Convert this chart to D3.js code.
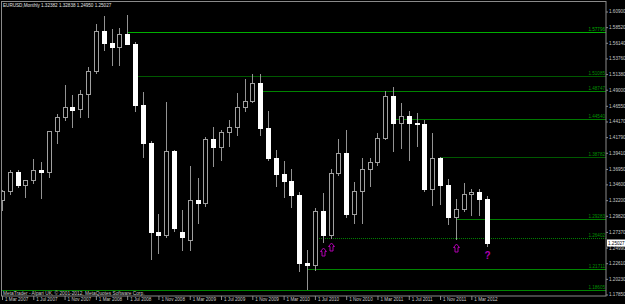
<!DOCTYPE html>
<html>
<head>
<meta charset="utf-8">
<script src="https://cdn.jsdelivr.net/npm/d3@7"></script>
<style>
body { margin: 0; background: #000; }
svg { display: block; }
text { font-family: "Liberation Sans", Arial, sans-serif; }
</style>
</head>
<body>
<div id="chart"></div>
<script>
// EURUSD monthly bars, Mar 2007 .. May 2012
var title = "EURUSD,Monthly  1.32382 1.32838 1.24950 1.25027";
var copyright = "MetaTrader - Alpari UK, \u00a9 2001-2012, MetaQuotes Software Corp.";
var months = d3.timeMonth.range(new Date(2007, 2, 1), new Date(2012, 5, 1));

var opens = [1.3225,1.3354,1.3652,1.3447,1.3527,1.3686,1.3644,1.4270,1.4482,1.4633,
    1.4610,1.4837,1.5185,1.5788,1.5618,1.5549,1.5755,1.5600,1.4672,1.4097,
    1.2729,1.2694,1.3970,1.2740,1.2610,1.3230,1.3170,1.4151,1.4032,1.4255,
    1.4334,1.4636,1.4724,1.5006,1.4320,1.3865,1.3625,1.3509,1.3293,1.2268,
    1.2235,1.3048,1.2686,1.3630,1.3938,1.3004,1.3367,1.3690,1.3800,1.4165,
    1.4809,1.4393,1.4502,1.4390,1.4378,1.3391,1.3865,1.3447,1.2961,1.3079,
    1.3320,1.3343,1.3238];
var highs = [1.3374,1.3682,1.3681,1.3534,1.3852,1.3802,1.4279,1.4528,1.4967,1.4827,
    1.4902,1.5240,1.5905,1.6019,1.5818,1.5840,1.6038,1.5625,1.4867,1.4113,
    1.3017,1.4719,1.3980,1.3077,1.3738,1.3560,1.4175,1.4337,1.4288,1.4446,
    1.4843,1.5063,1.5145,1.5135,1.4580,1.3985,1.3815,1.3692,1.3348,1.2456,
    1.3104,1.3334,1.3688,1.4156,1.4282,1.3500,1.3861,1.3863,1.4249,1.4882,
    1.4940,1.4700,1.4578,1.4548,1.4443,1.4247,1.3873,1.3549,1.3234,1.3486,
    1.3386,1.3383,1.3284];
var lows = [1.3077,1.3311,1.3415,1.3267,1.3483,1.3259,1.3567,1.4088,1.4445,1.4336,
    1.4482,1.4490,1.5157,1.5508,1.5283,1.5283,1.5590,1.4580,1.3882,1.2329,
    1.2423,1.2659,1.2745,1.2456,1.2455,1.2870,1.3124,1.3745,1.3830,1.4047,
    1.4210,1.4577,1.4712,1.4218,1.3830,1.3443,1.3268,1.3113,1.2141,1.1876,
    1.2151,1.2588,1.2643,1.3600,1.2969,1.2873,1.2867,1.3430,1.3749,1.4155,
    1.3968,1.4008,1.3837,1.4050,1.3362,1.3145,1.3166,1.2858,1.2623,1.3055,
    1.3000,1.2995,1.2517];
var closes = [1.3354,1.3652,1.3447,1.3527,1.3686,1.3644,1.4270,1.4482,1.4633,1.4588,
    1.4837,1.5185,1.5788,1.5618,1.5549,1.5755,1.5600,1.4672,1.4097,1.2729,
    1.2694,1.3970,1.2800,1.2663,1.3230,1.3170,1.4151,1.4032,1.4255,1.4334,
    1.4636,1.4724,1.5006,1.4320,1.3865,1.3625,1.3509,1.3293,1.2268,1.2235,
    1.3048,1.2686,1.3630,1.3938,1.3004,1.3367,1.3690,1.3800,1.4165,1.4809,
    1.4393,1.4502,1.4390,1.4378,1.3391,1.3865,1.3447,1.2961,1.3079,1.3320,
    1.3343,1.3238,1.2574];

var priceTicks = [1.60900,1.58520,1.56140,1.53760,1.51380,1.49000,1.46550,1.44170,1.41790,
    1.39410,1.36950,1.34600,1.32200,1.29820,1.27370,1.24990,1.22610,1.20230,1.17850];

// horizontal levels and the bar they start from
var levelPrices = [1.57796,1.51085,1.48747,1.44540,1.38782,1.29283,1.26402,1.21711,1.18605];
var levelFrom = [16,17,33,50,56,58,40,39,0];

// arrows under bars
var signalBars = [41,42,58];
var signalPrices = [1.2485,1.2576,1.2546];
var questionBar = 62;
var questionPrice = 1.2439;
var bidLabel = "1.25027";

var W = 625, H = 304;
var right = 606, bottom = 296;

var levelColors = ["#00b000","#005800","#008400","#007800","#005800","#007c00","#008000","#008400","#008400"];

var svg = d3.select("#chart").append("svg")
    .attr("width", W)
    .attr("height", H)
    .style("background", "#000");

var x = d3.scalePoint().domain(d3.range(months.length)).range([2, 487]);
var y = d3.scaleLinear().domain([1.1785, 1.609]).range([294.5, 11.5]);
var fmt = d3.format(".5f");
var px = function(v) { return Math.round(v) + 0.5; };

svg.append("clipPath").attr("id", "plot")
    .append("rect").attr("x", 2).attr("y", 2).attr("width", right - 2).attr("height", bottom - 2);

var g = svg.append("g").attr("clip-path", "url(#plot)");

// levels
levelPrices.forEach(function(p, i) {
    g.append("line")
        .attr("x1", x(levelFrom[i]))
        .attr("x2", right)
        .attr("y1", px(y(p)))
        .attr("y2", px(y(p)))
        .attr("stroke", levelColors[i])
        .attr("stroke-width", i == 0 ? 1.5 : 1)
        .attr("stroke-dasharray", i == 6 ? "1,1" : "none")
        .attr("shape-rendering", "crispEdges");
    svg.append("text")
        .attr("x", right - 1)
        .attr("y", px(y(p)) - 1.5)
        .attr("text-anchor", "end")
        .style("font-size", "4.6px")
        .style("fill", i == 0 ? "#00b000" : "#009000")
        .text(fmt(p));
});

// candles
var bars = g.selectAll(".bar")
    .data(d3.range(months.length))
    .enter().append("g")
        .attr("class", "bar");

bars.append("line")
    .attr("x1", function(i) { return px(x(i)); })
    .attr("x2", function(i) { return px(x(i)); })
    .attr("y1", function(i) { return Math.round(y(highs[i])); })
    .attr("y2", function(i) { return Math.round(y(lows[i])) + 1; })
    .attr("stroke", "#939393")
    .attr("shape-rendering", "crispEdges");

bars.append("rect")
    .attr("x", function(i) { return Math.round(x(i)) - 1.5; })
    .attr("width", 4)
    .attr("y", function(i) { return Math.round(y(Math.max(opens[i], closes[i]))) + 0.5; })
    .attr("height", function(i) {
        return Math.round(y(Math.min(opens[i], closes[i]))) - Math.round(y(Math.max(opens[i], closes[i])));
    })
    .attr("fill", function(i) { return closes[i] >= opens[i] ? "#000" : "#fff"; })
    .attr("stroke", function(i) { return closes[i] >= opens[i] ? "#a0a0a0" : "#fff"; })
    .attr("shape-rendering", "crispEdges");

// signal arrows
signalBars.forEach(function(b, i) {
    svg.append("path")
        .attr("transform", "translate(" + px(x(b)) + "," + Math.round(y(signalPrices[i])) + ")")
        .attr("d", "M0,0 L3,3.5 L1.5,3.5 L1.5,8 L-1.5,8 L-1.5,3.5 L-3,3.5 Z")
        .attr("fill", "none")
        .attr("stroke", "#b000b0")
        .attr("stroke-width", 1);
});
svg.append("text")
    .attr("x", px(x(questionBar)))
    .attr("y", y(questionPrice) + 7.5)
    .attr("text-anchor", "middle")
    .style("font-size", "10px")
    .style("font-weight", "bold")
    .style("fill", "#b000b0")
    .text("?");

// frame
svg.append("rect")
    .attr("x", 1.5).attr("y", 1.5)
    .attr("width", right - 1.5).attr("height", bottom - 1.5)
    .attr("fill", "none")
    .attr("stroke", "#8a8a8a");

// right price axis
var yAxis = svg.append("g")
    .attr("transform", "translate(" + right + ",0)")
    .call(d3.axisRight(y).tickValues(priceTicks).tickFormat(fmt).tickSize(2).tickPadding(1));
yAxis.select(".domain").remove();
yAxis.selectAll(".tick line").attr("stroke", "#8a8a8a");
yAxis.selectAll("text")
    .style("font-size", "4.6px")
    .style("font-family", "Liberation Sans, Arial, sans-serif")
    .style("fill", "#c8c8c8");

// bottom time axis
var tf = d3.timeFormat("%-d %b %Y");
var xAxis = svg.append("g")
    .attr("transform", "translate(0," + bottom + ")")
    .call(d3.axisBottom(x).tickValues(d3.range(0, months.length, 4))
        .tickFormat(function(i) { return tf(months[i]); }).tickSize(4));
xAxis.select(".domain").remove();
xAxis.selectAll(".tick line").attr("stroke", "#8a8a8a");
xAxis.selectAll("text")
    .attr("text-anchor", "start")
    .attr("x", 2.5)
    .attr("y", 2)
    .style("font-size", "4.6px")
    .style("font-family", "Liberation Sans, Arial, sans-serif")
    .style("fill", "#c8c8c8");

// bid price box
var by = Math.round(y(closes[closes.length - 1]));
svg.append("rect")
    .attr("x", right + 1).attr("y", by - 3.5)
    .attr("width", 18).attr("height", 7)
    .attr("fill", "#fff");
svg.append("text")
    .attr("x", right + 2).attr("y", by + 1.7)
    .style("font-size", "4.6px")
    .style("fill", "#000")
    .text(bidLabel);

// title and copyright
svg.append("text")
    .attr("x", 3).attr("y", 7)
    .style("font-size", "4.6px")
    .style("fill", "#e0e0e0")
    .text(title);
svg.append("text")
    .attr("x", 3).attr("y", 295)
    .style("font-size", "4.8px")
    .style("fill", "#c8c8c8")
    .text(copyright);
</script>
</body>
</html>
